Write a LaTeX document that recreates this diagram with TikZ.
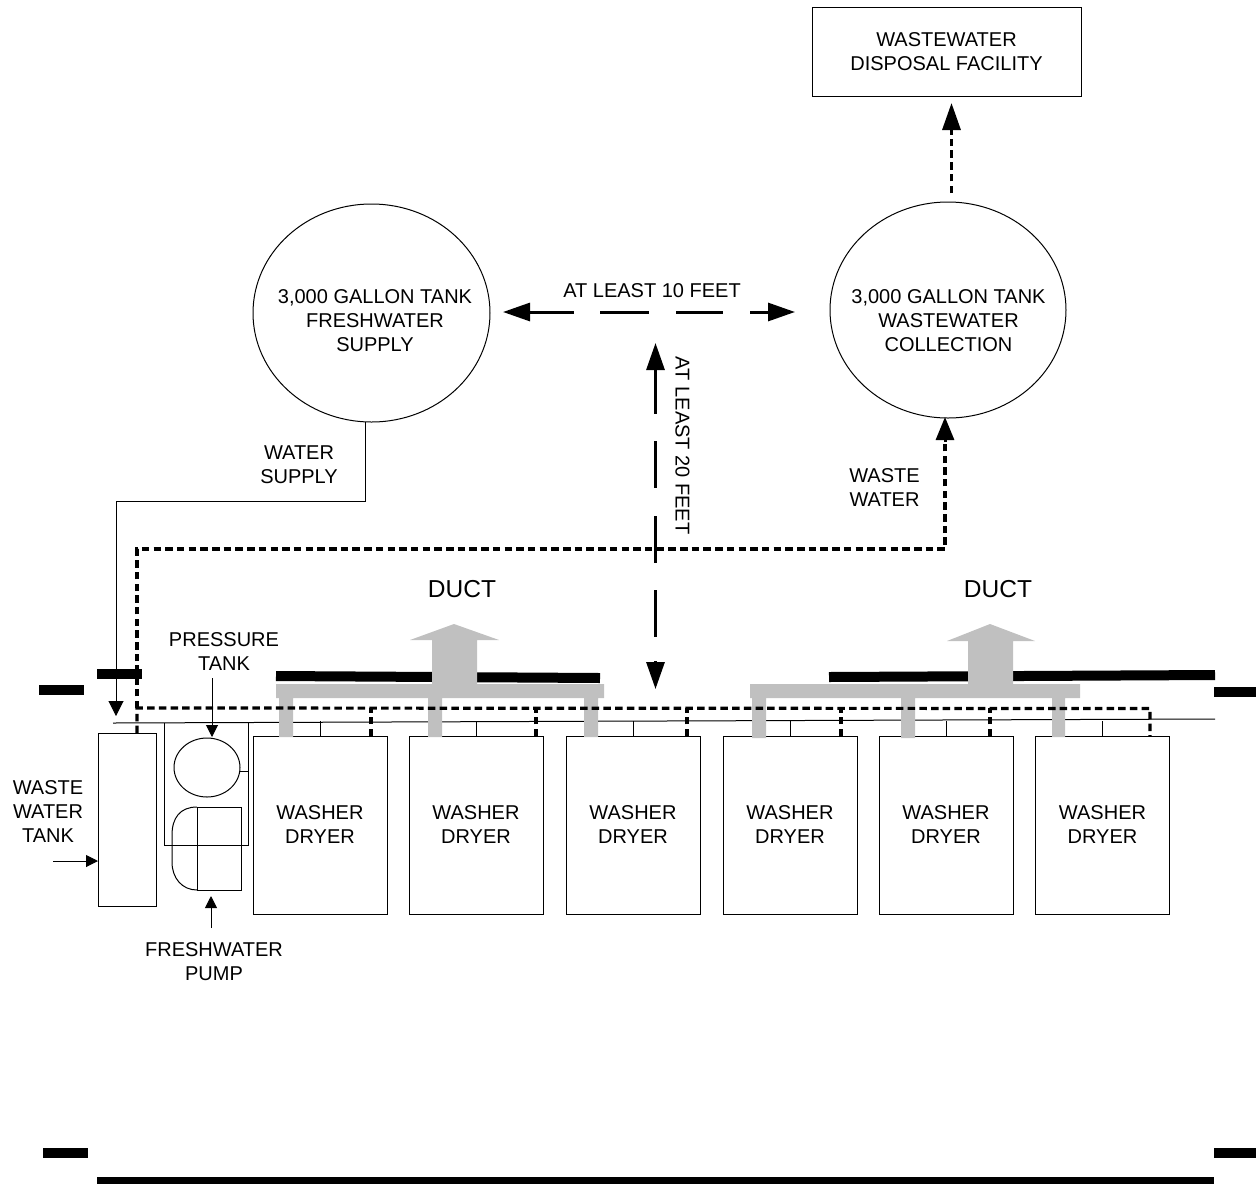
\documentclass[tikz,border=0pt]{standalone}
\usepackage{fontspec}
\setmainfont{Liberation Sans}
\usetikzlibrary{arrows.meta,shapes.geometric}
\definecolor{ductgray}{HTML}{C0C0C0}
\tikzset{
  thinline/.style={draw=black,line width=1pt},
  lab/.style={align=center,inner sep=0pt,yshift=-0.7pt,font=\fontsize{20}{24}\selectfont},
  bigfont/.style={inner sep=0pt,font=\fontsize{24.5}{28}\selectfont},
  boxed/.style={thinline,rectangle,inner sep=0pt,outer sep=0pt,fill=none},
  tank/.style={thinline,ellipse,inner sep=0pt,outer sep=0pt},
  washer/.style={boxed,minimum width=134pt,minimum height=178pt,align=center,font=\fontsize{20}{24}\selectfont},
  wall/.style={line width=10pt,draw=black},
  heavydash/.style={line width=3.2pt,dash pattern=on 7.5pt off 4.2pt},
  duct/.style={fill=ductgray,draw=none},
  bighead/.style={-{Triangle[length=27pt,width=18pt]}},
  bothhead/.style={{Triangle[length=27pt,width=18pt]}-{Triangle[length=27pt,width=18pt]}},
  midhead/.style={-{Triangle[length=15pt,width=15pt]}},
  smallhead/.style={-{Triangle[length=12pt,width=12pt]}},
}
\begin{document}
\begin{tikzpicture}[x=1pt,y=-1pt]
\useasboundingbox (0,0) rectangle (1256,1184);

% walls
\draw[wall] (39,690) -- (84,690);
\draw[wall] (97,674) -- (142,674);
\draw[wall] (276,676) -- (600,678);
\draw[wall] (829,677) -- (1215,675);
\draw[wall] (1214,692) -- (1256,692);
\draw[wall] (43,1153) -- (88,1153);
\draw[line width=7pt] (97,1180.5) -- (1214,1180.5);
\draw[wall] (1214,1153) -- (1256,1153);

% text-carrying shapes
\node[boxed,minimum width=269pt,minimum height=89pt] (disposal) at (946.5,52) {};
\node[lab] (disposaltext) at (946.5,51) {WASTEWATER\\DISPOSAL FACILITY};
\node[tank,minimum width=237pt,minimum height=218pt] (fresh) at (371.5,313) {};
\node[lab] (freshtext) at (375,319.5) {3,000 GALLON TANK\\FRESHWATER\\SUPPLY};
\node[tank,minimum width=236pt,minimum height=216pt] (waste) at (948,310) {};
\node[lab] (wastetext) at (948.5,319.5) {3,000 GALLON TANK\\WASTEWATER\\COLLECTION};

\node[washer] (w1) at (320,825) {WASHER\\DRYER};
\node[washer] (w2) at (476,825) {WASHER\\DRYER};
\node[washer] (w3) at (633,825) {WASHER\\DRYER};
\node[washer] (w4) at (790,825) {WASHER\\DRYER};
\node[washer] (w5) at (946,825) {WASHER\\DRYER};
\node[washer] (w6) at (1102.5,825) {WASHER\\DRYER};

\node[boxed,minimum width=58pt,minimum height=173pt] (wtank) at (127,819.5) {};
\node[tank,minimum width=66pt,minimum height=59pt] (ptank) at (207,767.5) {};
\node[boxed,minimum width=44pt,minimum height=83pt] (pump) at (219,848.5) {};

% ceiling service line and stubs
\coordinate (basel) at (113,723);
\coordinate (baser) at (1215,719);
\draw[thinline] (basel) -- (baser);
\foreach \n in {1,...,6}{\draw[thinline] (w\n.north) -- ++(0,-15);}

% freshwater manifold around the pressure tank and pump
\coordinate (manl) at (164,723);
\coordinate (manr) at (248,722.5);
\draw[thinline] (manl) -- (164,845) -- (248,845) -- (manr);
\draw[thinline] (240,771) -- (248,771);
\draw[thinline] (pump.north west) .. controls (180,807) and (172,818) .. (172,835)
  -- (172,862) .. controls (172,878) and (182,890) .. (pump.south west);

% gray ducts
\fill[duct] (276,684) -- (432,684) -- (432,640) -- (410,640) -- (454,624) -- (499,640)
  -- (477,640) -- (477,684) -- (604,684) -- (604,698) -- (598,698) -- (598,737) -- (584,737)
  -- (584,698) -- (442,698) -- (442,737) -- (428,737) -- (428,698) -- (293,698) -- (293,737)
  -- (279,737) -- (279,698) -- (276,698) -- cycle;
\fill[duct] (750,684) -- (968,684) -- (968,641) -- (947,641) -- (990,624) -- (1035,641)
  -- (1013,641) -- (1013,684) -- (1080,684) -- (1080,698) -- (1065,698) -- (1065,737) -- (1052,737)
  -- (1052,698) -- (915,698) -- (915,738) -- (901,738) -- (901,698) -- (766,698) -- (766,738)
  -- (752,738) -- (752,698) -- (750,698) -- cycle;

% wastewater piping
\coordinate (drainturn) at (1150,708.5);
\draw[heavydash] (137,733) -- (137,708) -- (drainturn) -- (1150,736);
\draw[heavydash] (371,736) -- (371,708);
\draw[heavydash] (536,736) -- (536,708);
\draw[heavydash] (687,736) -- (687,708);
\draw[heavydash] (841,736) -- (841,708);
\draw[heavydash] (990,736) -- (990,708);
\coordinate (wastetip) at (945,417);
\draw[heavydash] (137,708) -- (137,549) -- (945,549) -- (945,440);
\draw[-{Triangle[length=23pt,width=18pt]},line width=3pt] (945,442) -- (wastetip);

% disposal arrow
\coordinate (dispfrom) at (951.5,193);
\coordinate (disptip) at (951.5,103);
\draw[bighead,line width=3.2pt,dash pattern=on 7.5pt off 4.2pt] (dispfrom) -- (disptip);

% water supply
\coordinate (supplytip) at (116,716);
\draw[thinline,midhead] (fresh.south -| 365,422) -- (365,501) -- (116,501) -- (supplytip);

% distance arrows
\coordinate (tenl) at (503,312);
\coordinate (tenr) at (795,312);
\draw[bothhead,line width=3pt,dash pattern=on 45pt off 26pt on 49pt off 27pt on 47pt off 27pt on 100pt] (tenl) -- (tenr);
\coordinate (twentyt) at (655.5,343);
\coordinate (twentyb) at (655.5,689);
\draw[bothhead,line width=3pt,dash pattern=on 45pt off 27pt on 47pt off 28pt on 47pt off 27pt on 47pt off 24pt on 100pt] (twentyt) -- (twentyb);

% pointer arrows
\coordinate (pfrom) at (212,678);
\coordinate (wfrom) at (53,861);
\coordinate (ffrom) at (211,928);
\draw[thinline,smallhead] (pfrom) -- (212,737);
\draw[thinline,smallhead] (wfrom) -- (wtank.west |- 0,861);
\draw[thinline,smallhead] (ffrom) -- (211,896);

% labels
\node[lab] (l10) at (652,290) {AT LEAST 10 FEET};
\node[lab,rotate=-90] (l20) at (682.5,445) {AT LEAST 20 FEET};
\node[lab] (lsupply) at (299,464) {WATER\\SUPPLY};
\node[lab] (lwaste) at (884.5,487) {WASTE\\WATER};
\node[bigfont] (lduct1) at (462,589) {DUCT};
\node[bigfont] (lduct2) at (998,589) {DUCT};
\node[lab] (lpress) at (224,650.5) {PRESSURE\\TANK};
\node[lab] (lwt) at (48,811) {WASTE\\WATER\\TANK};
\node[lab] (lpump) at (214,961) {FRESHWATER\\PUMP};
\end{tikzpicture}
\end{document}
